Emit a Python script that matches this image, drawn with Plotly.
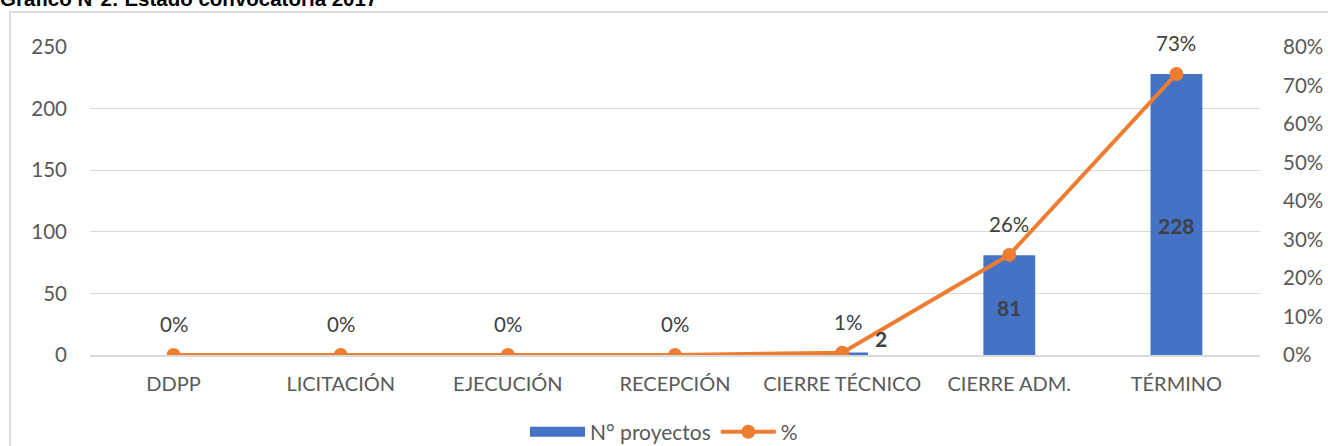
import plotly.graph_objects as go

# datos del gráfico
categorias = ["DDPP", "LICITACIÓN", "EJECUCIÓN", "RECEPCIÓN",
              "CIERRE TÉCNICO", "CIERRE ADM.", "TÉRMINO"]
n_proyectos = [0, 0, 0, 0, 2, 81, 228]
porcentaje = [0, 0, 0, 0, 0.006, 0.26, 0.73]

titulo = "Gráfico N°2: Estado convocatoria 2017"

AZUL = "#4472C4"
NARANJA = "#ED7D31"
FUENTE = "Lato, 'Open Sans', sans-serif"

fig = go.Figure()

# entrada de leyenda con rectángulo ancho, como en Excel
fig.add_trace(go.Scatter(
    x=[None], y=[None], mode="lines", name="N° proyectos",
    line=dict(color=AZUL, width=12), hoverinfo="skip",
))

fig.add_trace(go.Bar(
    x=categorias, y=n_proyectos,
    name="N° proyectos",
    marker=dict(color=AZUL, line=dict(width=0)),
    width=0.31,
    showlegend=False,
    hoverinfo="x+y",
))

fig.add_trace(go.Scatter(
    x=categorias, y=porcentaje,
    name="%",
    yaxis="y2",
    mode="lines+markers",
    line=dict(color=NARANJA, width=4),
    marker=dict(color=NARANJA, size=14),
))

# etiquetas de las barras (solo valores > 0)
for cat, v in zip(categorias, n_proyectos):
    if v <= 0:
        continue
    if v < 20:
        fig.add_annotation(x=cat, y=v, text=f"<b>{v}</b>", showarrow=False,
                           xshift=39, yshift=14,
                           font=dict(size=21, color="#404040", family=FUENTE))
    else:
        fig.add_annotation(x=cat, y=v * 0.46 if v > 150 else v / 2.1,
                           text=f"<b>{v}</b>", showarrow=False,
                           font=dict(size=21, color="#404040", family=FUENTE))

# etiquetas de la línea
for cat, p in zip(categorias, porcentaje):
    fig.add_annotation(x=cat, y=p, yref="y2", text=f"{p:.0%}", showarrow=False,
                       yshift=31, xshift=6 if 0 < p < 0.05 else 0,
                       font=dict(size=20.5, color="#404040", family=FUENTE))

# título (cortado en la parte superior, como en el original)
fig.add_annotation(xref="paper", yref="paper", x=-0.0786, y=1.115,
                   xanchor="left", yanchor="bottom", showarrow=False,
                   text=f"<b>{titulo}</b>",
                   font=dict(size=20.5, color="#000000", family="'Liberation Sans', Arial, sans-serif"))

# marco del área del gráfico
fig.add_shape(type="rect", xref="paper", yref="paper",
              x0=-0.0684, x1=1.2, y0=-0.6, y1=1.1136,
              line=dict(color="#D0D0D0", width=1.5), fillcolor="rgba(0,0,0,0)",
              layer="below")

fig.update_layout(
    width=1328, height=446,
    margin=dict(l=90, r=68, t=47, b=91, autoexpand=False),
    paper_bgcolor="white", plot_bgcolor="white",
    font=dict(family=FUENTE, size=20, color="#595959"),
    showlegend=True,
    legend=dict(orientation="h", x=0.5, xanchor="center", xref="container",
                y=0.031, yanchor="middle", yref="container",
                font=dict(size=21, color="#595959"), itemwidth=55,
                traceorder="normal"),
    bargap=0.69,
    xaxis=dict(type="category", categoryorder="array", categoryarray=categorias,
               showgrid=False, showline=True, linecolor="#D9D9D9", linewidth=1.5,
               ticks="", ticklabelstandoff=10,
               tickfont=dict(size=20, color="#595959")),
    yaxis=dict(range=[0, 250], dtick=50, showgrid=True, gridcolor="#D9D9D9",
               gridwidth=1.2, zeroline=False, showline=False, ticks="",
               ticklabelstandoff=22, tickfont=dict(size=20.5, color="#595959")),
    yaxis2=dict(range=[0, 0.8], dtick=0.1, tickformat=".0%", overlaying="y",
                side="right", showgrid=False, zeroline=False, showline=False,
                ticks="", ticklabelstandoff=22,
                tickfont=dict(size=20.5, color="#595959")),
)

# sin margen en el body para que la figura ocupe exactamente la ventana
fig.write_html("out.html", config={"displayModeBar": False},
               post_script="document.body.style.margin='0';")
